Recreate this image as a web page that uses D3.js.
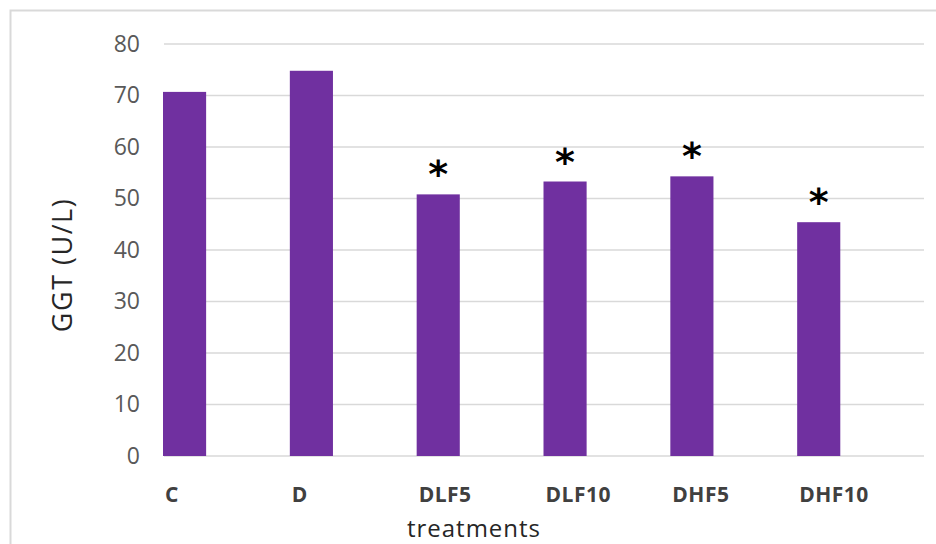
<!DOCTYPE html>
<html>
  <head>
    <script type="text/javascript" src="https://cdn.jsdelivr.net/npm/d3@7/dist/d3.min.js"></script>
    <style>
      body { margin: 0; background: #fff; }
    </style>
  </head>
  <body>
    <div id="viz"></div>
    <script type="text/javascript">
      // data
      const treatments = ["C", "D", "DLF5", "DLF10", "DHF5", "DHF10"];
      const ggt = [70.7, 74.8, 50.8, 53.3, 54.3, 45.4];
      const significant = [false, false, true, true, true, true];
      const yTicks = [0, 10, 20, 30, 40, 50, 60, 70, 80];

      const width = 936;
      const height = 544;

      const svg = d3.select("#viz")
        .append("svg")
        .attr("width", width)
        .attr("height", height);

      // outer frame of the chart
      svg.append("rect")
        .attr("x", 10.5)
        .attr("y", 10.5)
        .attr("width", width)
        .attr("height", height)
        .style("fill", "none")
        .style("stroke", "#d9d9d9")
        .style("stroke-width", 2);

      const x = d3.scaleBand()
        .domain(treatments)
        .range([164, 925]);

      const y = d3.scaleLinear()
        .domain([0, 80])
        .range([456, 44]);

      const barW = x.bandwidth() * 0.34;

      // gridlines
      svg.selectAll("line.grid")
        .data(yTicks)
        .enter()
        .append("line")
        .attr("class", "grid")
        .attr("x1", 164)
        .attr("x2", 924)
        .attr("y1", d => y(d))
        .attr("y2", d => y(d))
        .style("stroke", "#d9d9d9")
        .style("stroke-width", 1.5);

      // y axis labels
      const yAxis = d3.axisLeft(y)
        .tickValues(yTicks)
        .tickSize(0)
        .tickPadding(0);
      const ya = svg.append("g")
        .attr("transform", "translate(140,0)")
        .call(yAxis);
      ya.select(".domain").remove();
      ya.selectAll("text")
        .style("font-family", "Open Sans")
        .style("font-size", "23px")
        .style("fill", "#595959");

      // bars
      svg.selectAll("rect.bar")
        .data(treatments)
        .enter()
        .append("rect")
        .attr("class", "bar")
        .attr("x", d => x(d) - 1)
        .attr("y", (d, i) => y(ggt[i]))
        .attr("width", barW)
        .attr("height", (d, i) => y(0) - y(ggt[i]))
        .style("fill", "#7030a0");

      // asterisks
      svg.selectAll("text.star")
        .data(treatments.filter((d, i) => significant[i]))
        .enter()
        .append("text")
        .attr("class", "star")
        .attr("x", d => x(d) - 1 + barW / 2)
        .attr("y", d => y(ggt[treatments.indexOf(d)]) - 7)
        .attr("text-anchor", "middle")
        .style("font-family", "DejaVu Sans")
        .style("font-weight", "bold")
        .style("font-size", "38px")
        .style("fill", "#000")
        .text("*");

      // x category labels, left aligned with the bars
      svg.selectAll("text.cat")
        .data(treatments)
        .enter()
        .append("text")
        .attr("class", "cat")
        .attr("x", d => x(d) + 1)
        .attr("y", 502)
        .style("font-family", "Open Sans")
        .style("font-weight", "bold")
        .style("font-size", "21px")
        .style("letter-spacing", "0.5px")
        .style("fill", "#404040")
        .text(d => d);

      // axis titles
      svg.append("text")
        .attr("x", 474)
        .attr("y", 537)
        .attr("text-anchor", "middle")
        .style("font-family", "Open Sans")
        .style("font-size", "24px")
        .style("letter-spacing", "1px")
        .style("fill", "#262626")
        .text("treatments");

      svg.append("text")
        .attr("transform", "translate(72,265) rotate(-90)")
        .attr("text-anchor", "middle")
        .style("font-family", "Open Sans")
        .style("font-size", "27px")
        .style("letter-spacing", "1.5px")
        .style("fill", "#262626")
        .text("GGT (U/L)");
    </script>
  </body>
</html>
